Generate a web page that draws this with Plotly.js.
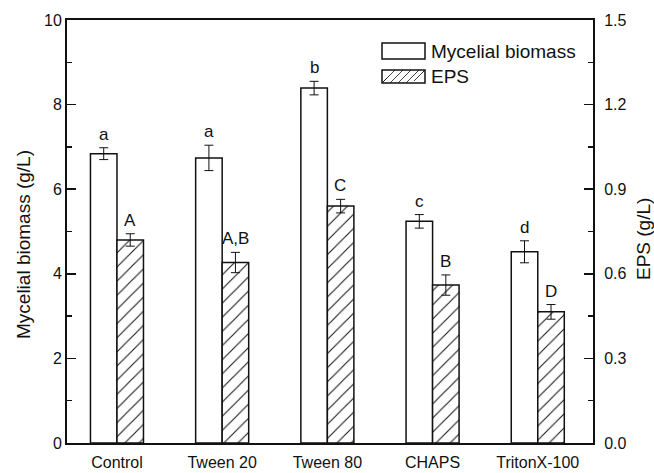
<!DOCTYPE html>
<html>
<head>
<meta charset="utf-8">
<script src="https://cdn.plot.ly/plotly-3.0.1.min.js"></script>
<style>html,body{margin:0;padding:0;background:#fff;}#chart{width:654px;height:473px;}</style>
</head>
<body>
<div id="chart"></div>
<script>
var categories = ['Control', 'Tween 20', 'Tween 80', 'CHAPS', 'TritonX-100'];
var biomass = [6.84, 6.74, 8.39, 5.24, 4.52];
var biomassErr = [0.14, 0.3, 0.16, 0.16, 0.26];
var eps = [0.72, 0.64, 0.84, 0.56, 0.465];
var epsErr = [0.022, 0.036, 0.024, 0.036, 0.026];
var biomassLetters = ['a', 'a', 'b', 'c', 'd'];
var epsLetters = ['A', 'A,B', 'C', 'B', 'D'];
var legendNames = ['Mycelial biomass', 'EPS'];
var axisTitles = ['Mycelial biomass (g/L)', 'EPS (g/L)'];

var FONT = '"Liberation Sans", Arial, Helvetica, sans-serif';
var INK = '#111';

var traceBio = {
  type: 'bar', name: legendNames[0], x: categories, y: biomass,
  yaxis: 'y', width: 0.252, offset: -0.252,
  marker: {color: '#ffffff', line: {color: INK, width: 1.5}},
  error_y: {type: 'data', array: biomassErr, visible: true, color: INK, thickness: 1, width: 4.5},
  showlegend: false
};
var traceEps = {
  type: 'bar', name: legendNames[1], x: categories, y: eps,
  yaxis: 'y2', width: 0.252, offset: 0,
  marker: {color: '#ffffff', line: {color: INK, width: 1.5},
    pattern: {shape: '/', size: 10, solidity: 0.1, fgcolor: INK, bgcolor: '#ffffff'}},
  error_y: {type: 'data', array: epsErr, visible: true, color: INK, thickness: 1, width: 4.5},
  showlegend: false
};

var annotations = [];
categories.forEach(function (c, i) {
  annotations.push({x: c, y: biomass[i] + biomassErr[i], xref: 'x', yref: 'y',
    text: biomassLetters[i], showarrow: false, yanchor: 'bottom', xshift: -13, yshift: 2,
    font: {family: FONT, size: 17, color: INK}});
  annotations.push({x: c, y: eps[i] + epsErr[i], xref: 'x', yref: 'y2',
    text: epsLetters[i], showarrow: false, yanchor: 'bottom', xshift: 13, yshift: 2,
    font: {family: FONT, size: 17, color: INK}});
});

// paper-coordinate helpers for the plot area (67..593 x 20..443 px)
function px(x) { return (x - 67) / 526; }
function py(y) { return (443 - y) / 423; }

// axis titles
annotations.push({x: px(23), y: py(245), xref: 'paper', yref: 'paper', text: axisTitles[0],
  textangle: -90, showarrow: false, xanchor: 'center', yanchor: 'middle',
  font: {family: FONT, size: 19, color: INK}});
annotations.push({x: px(643), y: py(239), xref: 'paper', yref: 'paper', text: axisTitles[1],
  textangle: -90, showarrow: false, xanchor: 'center', yanchor: 'middle',
  font: {family: FONT, size: 19, color: INK}});

// legend drawn manually
annotations.push({x: px(429), y: py(51), xref: 'paper', yref: 'paper', text: legendNames[0],
  showarrow: false, xanchor: 'left', yanchor: 'middle', font: {family: FONT, size: 19, color: INK}});
annotations.push({x: px(429), y: py(77), xref: 'paper', yref: 'paper', text: legendNames[1],
  showarrow: false, xanchor: 'left', yanchor: 'middle', font: {family: FONT, size: 19, color: INK}});

var hatch = '';
[[382, 78, 387, 83], [382, 70, 395, 83], [390, 70, 403, 83], [398, 70, 411, 83], [406, 70, 419, 83], [414, 70, 425, 81], [422, 70, 425, 73]].forEach(function (s) {
  hatch += 'M' + px(s[0]) + ',' + py(s[3]) + 'L' + px(s[2]) + ',' + py(s[1]) + ' ';
});

var shapes = [
  {type: 'rect', xref: 'paper', yref: 'paper', x0: px(382), x1: px(425), y0: py(59), y1: py(43),
    line: {color: INK, width: 1.5}, fillcolor: '#fff'},
  {type: 'rect', xref: 'paper', yref: 'paper', x0: px(382), x1: px(425), y0: py(83), y1: py(70),
    line: {color: INK, width: 1.5}, fillcolor: '#fff'},
  {type: 'path', xref: 'paper', yref: 'paper', path: hatch, line: {color: INK, width: 0.8}}
];

var layout = {
  width: 654, height: 473,
  margin: {l: 67, r: 61, t: 20, b: 30},
  paper_bgcolor: '#fff', plot_bgcolor: '#fff',
  font: {family: FONT, color: INK},
  showlegend: false,
  xaxis: {
    type: 'category', range: [-0.475, 4.525], showgrid: false, zeroline: false,
    showline: true, linecolor: INK, linewidth: 2, mirror: true, ticks: '',
    tickfont: {family: FONT, size: 16, color: INK}, ticklabelstandoff: 4
  },
  yaxis: {
    range: [0, 10], dtick: 2, showgrid: false, zeroline: false,
    showline: true, linecolor: INK, linewidth: 2, ticks: 'inside', ticklen: 9, tickwidth: 1.5, tickcolor: INK,
    minor: {dtick: 1, ticks: 'inside', ticklen: 5, tickwidth: 1.5, tickcolor: INK},
    tickfont: {family: FONT, size: 16, color: INK}, ticklabelstandoff: 0
  },
  yaxis2: {
    overlaying: 'y', side: 'right', range: [0, 1.5], dtick: 0.3, tickformat: '.1f',
    showgrid: false, zeroline: false,
    showline: true, linecolor: INK, linewidth: 2, ticks: 'inside', ticklen: 9, tickwidth: 1.5, tickcolor: INK,
    minor: {dtick: 0.15, ticks: 'inside', ticklen: 5, tickwidth: 1.5, tickcolor: INK},
    tickfont: {family: FONT, size: 16, color: INK}, ticklabelstandoff: 6
  },
  annotations: annotations,
  shapes: shapes
};

Plotly.newPlot('chart', [traceBio, traceEps], layout, {displayModeBar: false, staticPlot: true});
</script>
</body>
</html>
